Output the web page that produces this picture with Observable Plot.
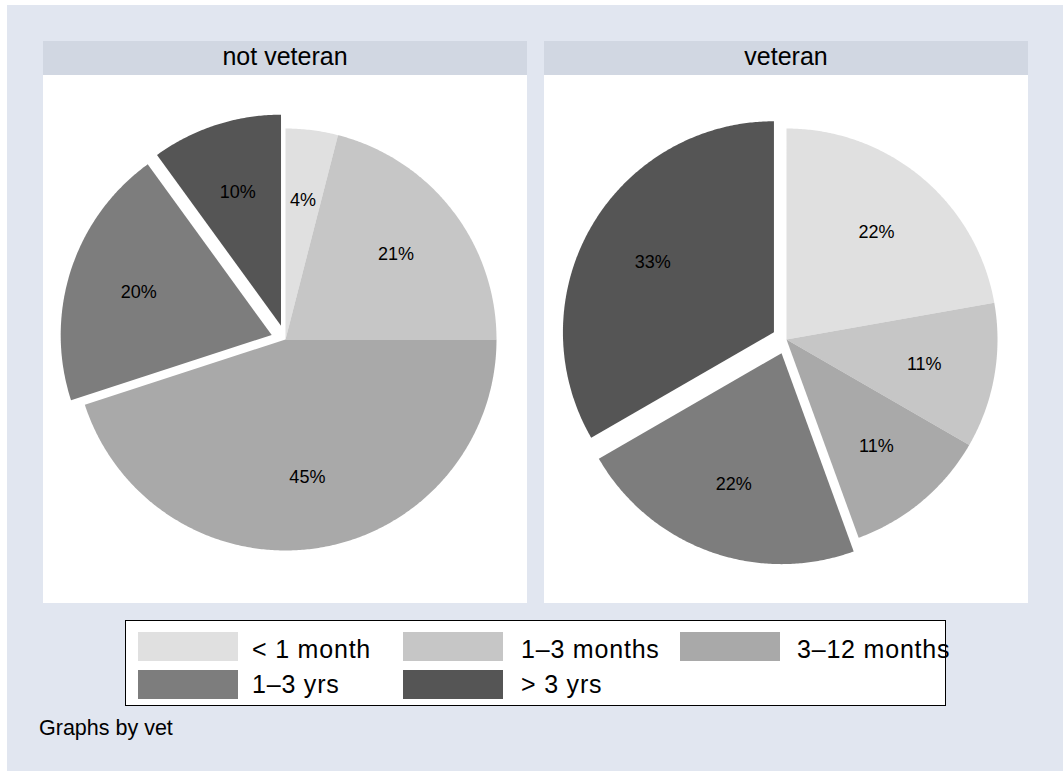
<!DOCTYPE html>
<html><head><meta charset="utf-8">
<script src="https://cdn.jsdelivr.net/npm/d3@7"></script>
<script src="https://cdn.jsdelivr.net/npm/@observablehq/plot@0.6"></script>
<style>
body{margin:0;background:#fff;font-family:"Liberation Sans",Arial,Helvetica,sans-serif;color:#000;}
#bg{position:absolute;left:7px;top:5px;width:1056px;height:766px;background:#e1e6f0;}
.panel{position:absolute;top:41px;width:484px;height:562px;background:#fff;}
.strip{height:34px;background:#d1d7e2;text-align:center;font-size:25px;line-height:30px;overflow:hidden;}
.panel svg{display:block;}
#legend{position:absolute;left:125px;top:620px;width:821px;height:86px;box-sizing:border-box;border:1.5px solid #000;background:#fff;}
.key{position:absolute;width:100px;height:29px;}
.ltxt{position:absolute;font-size:25px;line-height:1;white-space:nowrap;letter-spacing:0.8px;}
#caption{position:absolute;left:39px;top:718px;font-size:21.5px;line-height:1;white-space:nowrap;}
</style>
</head><body>
<div id="bg"></div>
<div id="root"></div>
<script>
const categories = ["< 1 month", "1–3 months", "3–12 months", "1–3 yrs", "> 3 yrs"];
const panels = ["not veteran", "veteran"];
const notVeteran = [4, 21, 45, 20, 10];
const veteran = [22.2, 11.1, 11.1, 22.2, 33.3];
const exploded = [false, false, false, true, true];
const grays = ["#e0e0e0", "#c6c6c6", "#a9a9a9", "#7d7d7d", "#555555"];
const caption = "Graphs by vet";

const R = 211;           // pie radius in px
const EXPLODE = 14.5 / R;
const LABEL_R = 0.663;
const PW = 484, PH = 528;

function pieChart(vals) {
  const total = d3.sum(vals);
  let acc = 0;
  const poly = [], labs = [];
  categories.forEach((c, i) => {
    const a0 = acc / total * 2 * Math.PI;
    acc += vals[i];
    const a1 = acc / total * 2 * Math.PI;
    const mid = (a0 + a1) / 2;
    const off = exploded[i] ? EXPLODE : 0;
    const ox = off * Math.sin(mid), oy = off * Math.cos(mid);
    poly.push({cat: c, x: ox, y: oy});
    const n = Math.max(2, Math.ceil((a1 - a0) / (Math.PI / 360)));
    for (let k = 0; k <= n; k++) {
      const a = a0 + (a1 - a0) * k / n;
      poly.push({cat: c, x: ox + Math.sin(a), y: oy + Math.cos(a)});
    }
    labs.push({x: ox + LABEL_R * Math.sin(mid), y: oy + LABEL_R * Math.cos(mid),
               text: Math.round(vals[i] / total * 100) + "%"});
  });
  return Plot.plot({
    width: PW, height: PH, margin: 0,
    x: {domain: [-PW / 2 / R, PW / 2 / R], axis: null},
    y: {domain: [-PH / 2 / R, PH / 2 / R], axis: null},
    color: {domain: categories, range: grays},
    style: {background: "#fff", fontFamily: "'Liberation Sans', Arial, sans-serif"},
    marks: [
      Plot.line(poly, {x: "x", y: "y", z: "cat", fill: "cat", stroke: "none", curve: "linear-closed"}),
      Plot.text(labs, {x: "x", y: "y", text: "text", fontSize: 18, fill: "#000"})
    ]
  });
}

const root = document.getElementById("root");
const data = [notVeteran, veteran];
const lefts = [43, 544];
panels.forEach((p, i) => {
  const div = document.createElement("div");
  div.className = "panel";
  div.style.left = lefts[i] + "px";
  const strip = document.createElement("div");
  strip.className = "strip";
  strip.textContent = p;
  div.appendChild(strip);
  div.appendChild(pieChart(data[i]));
  root.appendChild(div);
});

// legend
const legend = document.createElement("div");
legend.id = "legend";
const keyX = [137, 402, 679], textX = [251, 520, 796];
const keyY = [631, 669], textY = [636, 671];
categories.forEach((c, i) => {
  const col = i % 3, row = Math.floor(i / 3);
  const k = document.createElement("div");
  k.className = "key";
  k.style.left = (keyX[col] - 125) + "px";
  k.style.top = (keyY[row] - 620) + "px";
  k.style.background = grays[i];
  legend.appendChild(k);
  const t = document.createElement("div");
  t.className = "ltxt";
  t.style.left = (textX[col] - 125) + "px";
  t.style.top = (textY[row] - 620) + "px";
  t.textContent = c;
  legend.appendChild(t);
});
root.appendChild(legend);

const cap = document.createElement("div");
cap.id = "caption";
cap.textContent = caption;
root.appendChild(cap);
</script>
</body></html>
